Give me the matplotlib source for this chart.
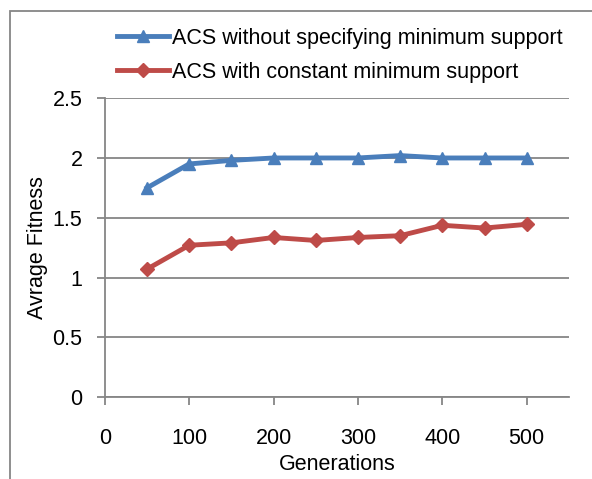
import matplotlib
matplotlib.use('Agg')
import matplotlib.pyplot as plt
from matplotlib.patches import Rectangle

plt.rcParams['font.family'] = ['Liberation Sans', 'DejaVu Sans']

gen = [50, 100, 150, 200, 250, 300, 350, 400, 450, 500]
fit_nosup = [1.75, 1.95, 1.98, 2.0, 2.0, 2.0, 2.02, 2.0, 2.0, 2.0]
fit_const = [1.07, 1.27, 1.29, 1.335, 1.31, 1.335, 1.35, 1.437, 1.414, 1.445]

blue = '#4a7ebb'
red = '#be4b48'
grey = '#868686'

fig = plt.figure(figsize=(5.92, 4.79), dpi=100)
ax = fig.add_axes([0.177, 0.171, 0.784, 0.624])

l1, = ax.plot(gen, fit_nosup, color=blue, lw=3.5, marker='^', ms=9, label='ACS without specifying minimum support')
l2, = ax.plot(gen, fit_const, color=red, lw=3.5, marker='D', ms=7, label='ACS with constant minimum support')

ax.set_xlim(0, 550)
ax.set_ylim(0, 2.5)
ax.set_xticks([0, 100, 200, 300, 400, 500])
ax.set_yticks([0, 0.5, 1, 1.5, 2, 2.5])
ax.set_yticklabels(['0', '0.5', '1', '1.5', '2', '2.5'])
ax.grid(axis='y', color=grey, lw=1.3)
ax.set_axisbelow(True)
for s in ['top', 'right']:
    ax.spines[s].set_visible(False)
for s in ['left', 'bottom']:
    ax.spines[s].set_color(grey)
    ax.spines[s].set_linewidth(1.3)
ax.tick_params(colors=grey, labelcolor='black', labelsize=15.5, length=6, width=1.3)
ax.tick_params(axis='y', pad=10)
ax.tick_params(axis='x', pad=16)
ax.set_xlabel('Generations', fontsize=15.5, labelpad=4)
ax.set_ylabel('Avrage Fitness', fontsize=15.5, labelpad=3)

fig.legend(handles=[l1, l2], loc='upper left', bbox_to_anchor=(0.183, 0.96), frameon=False,
           fontsize=15.5, handlelength=2.4, handletextpad=0.15, labelspacing=0.6, borderaxespad=0)

fig.patches.append(Rectangle((0.017, -0.05), 1.2, 1.028, transform=fig.transFigure,
                             fill=False, edgecolor=grey, lw=1.3))

fig.savefig('out.png', dpi=100)
